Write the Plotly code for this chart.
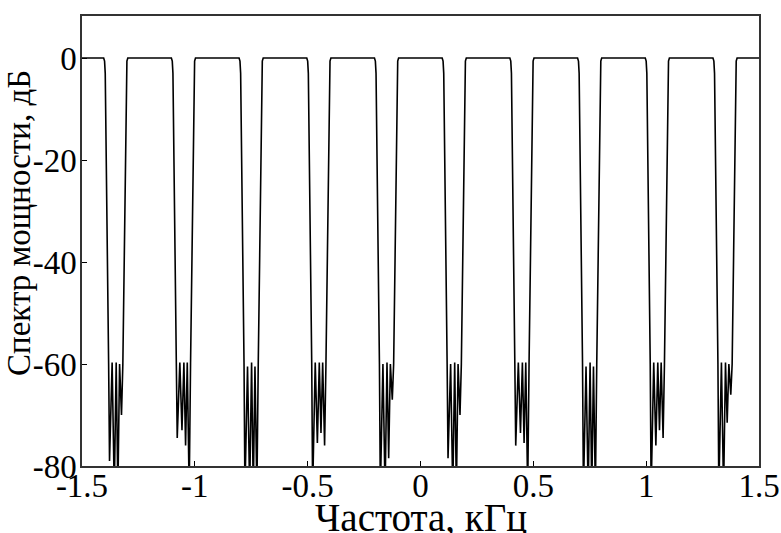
import plotly.graph_objects as go

# Notch centres (kHz)
notch_centers = [-1.35, -1.05, -0.75, -0.45, -0.15, 0.15, 0.45, 0.75, 1.05, 1.35]

# Depth of the four dips inside each notch (dB); values below -80 are clipped by the axis
notch_dips = [
    [-79, -85, -85, -70],
    [-74.5, -73, -76, -85],
    [-85, -85, -85, -85],
    [-85, -75.5, -73.5, -76],
    [-85, -85, -78.5, -67],
    [-78.5, -85, -85, -70],
    [-76, -73.5, -75.5, -85],
    [-85, -85, -85, -85],
    [-85, -76, -73, -74.5],
    [-85, -85, -71.5, -66],
]
# Level of the three ripple peaks inside each notch (dB)
notch_peaks = [
    [-59.7, -59.7, -60.0],
    [-59.7, -59.7, -59.7],
    [-60.5, -59.7, -60.5],
    [-59.7, -59.7, -59.7],
    [-60.0, -59.7, -60.0],
    [-60.0, -59.7, -60.0],
    [-59.7, -59.7, -59.7],
    [-60.5, -59.7, -60.5],
    [-59.7, -59.7, -59.7],
    [-59.7, -59.7, -60.0],
]

# Notch outline: offsets from the centre (kHz) and levels (dB)
left_edge_offsets = [-0.054, -0.050, -0.047, -0.032]
left_edge_levels = [0.0, -0.6, -3.0, -60.0]
dip_offsets = [-0.028, -0.007, 0.009, 0.025]
peak_offsets = [-0.0165, 0.0015, 0.0165]
right_edge_offsets = [0.031, 0.046, 0.049, 0.053]
right_edge_levels = [-60.0, -3.0, -0.6, 0.0]

freq_start, freq_end = -1.5, 1.5

x_vals = [freq_start]
y_vals = [0.0]
for c, dips, peaks in zip(notch_centers, notch_dips, notch_peaks):
    for o, v in zip(left_edge_offsets, left_edge_levels):
        x_vals.append(c + o); y_vals.append(v)
    for i in range(4):
        x_vals.append(c + dip_offsets[i]); y_vals.append(dips[i])
        if i < 3:
            x_vals.append(c + peak_offsets[i]); y_vals.append(peaks[i])
    for o, v in zip(right_edge_offsets, right_edge_levels):
        x_vals.append(c + o); y_vals.append(v)
x_vals.append(freq_end)
y_vals.append(0.0)

x_ticks = [-1.5, -1, -0.5, 0, 0.5, 1, 1.5]
x_tick_labels = ["-1.5", "-1", "-0.5", "0", "0.5", "1", "1.5"]
y_ticks = [-80, -60, -40, -20, 0]
y_tick_labels = ["-80", "-60", "-40", "-20", "0"]

fig = go.Figure()
fig.add_trace(go.Scatter(x=x_vals, y=y_vals, mode="lines",
                         line=dict(color="black", width=1.6), showlegend=False))

font_family = "Liberation Serif"
fs = 33
fig.update_layout(
    width=781, height=533,
    margin=dict(l=82, r=22, t=16, b=67),
    paper_bgcolor="white", plot_bgcolor="white",
    font=dict(family=font_family, color="black", size=fs),
    xaxis=dict(
        range=[-1.5, 1.5], tickvals=x_ticks, ticktext=x_tick_labels,
        ticks="inside", ticklen=5, tickcolor="black",
        showline=True, linecolor="#333", linewidth=1.5, mirror=True,
        showgrid=False, zeroline=False, automargin=False,
        tickfont=dict(size=fs, family=font_family),
        ticklabelstandoff=-10,
    ),
    yaxis=dict(
        range=[-80, 8.25], tickvals=y_ticks, ticktext=y_tick_labels,
        ticks="inside", ticklen=5, tickcolor="black",
        showline=True, linecolor="#333", linewidth=1.5, mirror=True,
        showgrid=False, zeroline=False, automargin=False,
        tickfont=dict(size=fs, family=font_family),
        ticklabelstandoff=-3,
    ),
    annotations=[
        dict(text="Частота, кГц", xref="paper", yref="paper", x=0.5, y=-0.114,
             xanchor="center", yanchor="middle", showarrow=False,
             font=dict(size=39, family=font_family, color="black")),
        dict(text="Спектр мощности, дБ", xref="paper", yref="paper", x=-0.093, y=0.54,
             xanchor="center", yanchor="middle", textangle=-90, showarrow=False,
             font=dict(size=33, family=font_family, color="black")),
    ],
)

fig.write_html("out.html", config={"displayModeBar": False},
               post_script="document.body.style.margin='0';document.body.style.padding='0';")
